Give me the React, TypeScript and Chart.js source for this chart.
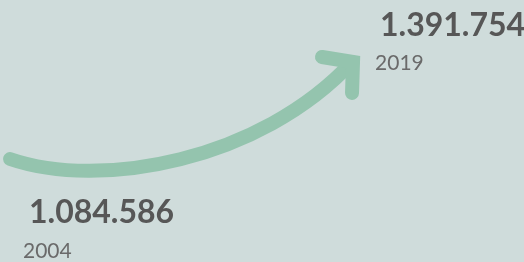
import React, { useEffect, useRef } from "react";
import { Chart, registerables } from "chart.js";

Chart.register(...registerables);

const years: number[] = [2004, 2019];
const values: number[] = [1084586, 1391754];

const BG = "#cfdcdb";
const ARROW = "#94c4ae";
const NUM_COLOR = "#575757";
const YEAR_COLOR = "#6a6a6a";
const FONT = "Lato, 'Open Sans', sans-serif";

const fmt = (v: number) => String(v).replace(/\B(?=(\d{3})+(?!\d))/g, ".");

const arrowPlugin = {
  id: "curvedArrow",
  beforeDraw(chart: any) {
    const { ctx, width, height } = chart;
    ctx.save();
    ctx.fillStyle = BG;
    ctx.fillRect(0, 0, width, height);
    ctx.restore();
  },
  afterDatasetsDraw(chart: any) {
    const meta = chart.getDatasetMeta(0);
    const p0 = meta.data[0];
    const p3 = meta.data[1];
    const ctx = chart.ctx;
    ctx.save();
    ctx.strokeStyle = ARROW;
    ctx.lineWidth = 14;
    ctx.lineCap = "round";
    ctx.lineJoin = "miter";
    // curved shaft
    ctx.beginPath();
    ctx.moveTo(p0.x, p0.y);
    ctx.bezierCurveTo(p0.x + 90, p0.y + 31, p3.x - 92, p3.y + 99, p3.x, p3.y);
    ctx.stroke();
    // arrow head
    ctx.beginPath();
    ctx.moveTo(p3.x - 30, p3.y - 5);
    ctx.lineTo(p3.x + 1, p3.y);
    ctx.lineTo(p3.x, p3.y + 31);
    ctx.stroke();

    // labels
    ctx.textBaseline = "alphabetic";
    ctx.textAlign = "left";
    ctx.fillStyle = NUM_COLOR;
    ctx.font = `bold 32px ${FONT}`;
    ctx.fillText(fmt(values[1]), p3.x + 28, p3.y - 26);
    ctx.fillText(fmt(values[0]), p0.x + 19, p0.y + 64);
    ctx.fillStyle = YEAR_COLOR;
    ctx.font = `21px ${FONT}`;
    ctx.fillText(String(years[1]), p3.x + 23, p3.y + 8);
    ctx.fillText(String(years[0]), p0.x + 13, p0.y + 99);
    ctx.restore();
  },
};

export default function App() {
  const ref = useRef<HTMLCanvasElement | null>(null);

  useEffect(() => {
    document.body.style.margin = "0";
    document.body.style.background = BG;
    let chart: Chart | null = null;
    let cancelled = false;
    const make = () => {
      if (cancelled || !ref.current) return;
      chart = new Chart(ref.current, {
        type: "line",
        data: {
          datasets: [
            {
              data: years.map((y, i) => ({ x: y, y: values[i] })),
              showLine: false,
              pointRadius: 0,
              pointHoverRadius: 0,
            },
          ],
        },
        options: {
          animation: false,
          responsive: false,
          events: [],
          layout: { padding: 0 },
          plugins: { legend: { display: false }, tooltip: { enabled: false } },
          scales: {
            x: { type: "linear", display: false, min: 2003.561, max: 2026.543 },
            y: { type: "linear", display: false, min: 758416, max: 1588089 },
          },
        },
        plugins: [arrowPlugin],
      });
    };
    Promise.all([
      (document as any).fonts.load(`bold 32px Lato`),
      (document as any).fonts.load(`21px Lato`),
    ])
      .catch(() => {})
      .then(make);
    return () => {
      cancelled = true;
      if (chart) chart.destroy();
    };
  }, []);

  return (
    <div style={{ width: 524, height: 262, background: BG }}>
      <canvas ref={ref} width={524} height={262} style={{ display: "block" }} />
    </div>
  );
}
